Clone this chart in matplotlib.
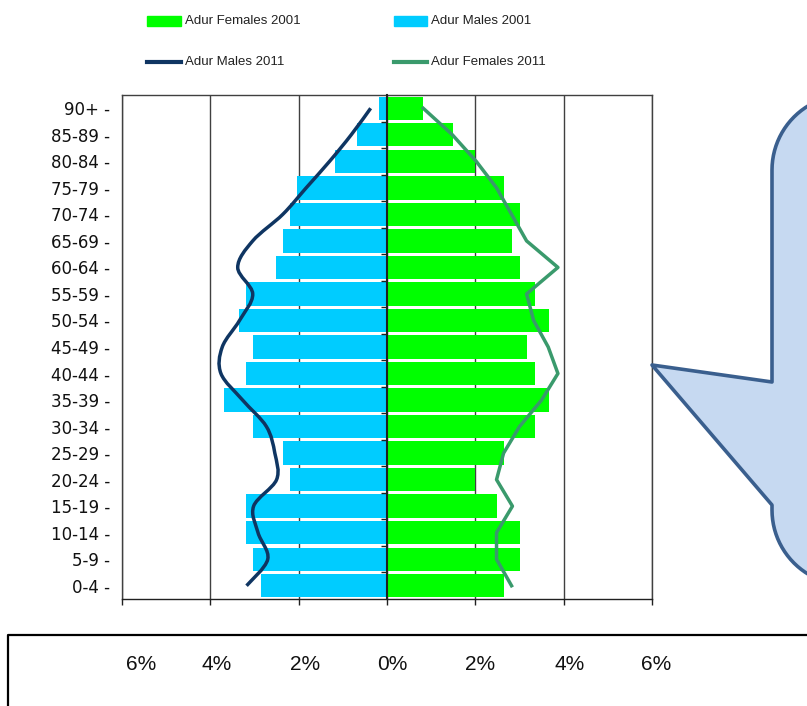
"""
Adur population pyramid, 2001 bars with 2011 lines.
"""

import numpy as np
import matplotlib
matplotlib.use("Agg")
import matplotlib.pyplot as plt
import matplotlib.transforms as mtransforms
from matplotlib.path import Path
from matplotlib.patches import PathPatch, Rectangle

# ─────────────────────────────────────────────
# DATA (% of total population, bottom -> top)
# ─────────────────────────────────────────────
AGE_GROUPS = ["0-4", "5-9", "10-14", "15-19", "20-24", "25-29", "30-34",
              "35-39", "40-44", "45-49", "50-54", "55-59", "60-64",
              "65-69", "70-74", "75-79", "80-84", "85-89", "90+"]

MALES_2001 = [2.86, 3.04, 3.20, 3.20, 2.20, 2.36, 3.04, 3.70, 3.20, 3.04,
              3.36, 3.20, 2.52, 2.36, 2.20, 2.03, 1.18, 0.69, 0.19]
FEMALES_2001 = [2.66, 3.00, 3.00, 2.50, 1.99, 2.66, 3.34, 3.66, 3.34, 3.16,
                3.66, 3.34, 3.00, 2.82, 3.00, 2.66, 1.99, 1.49, 0.82]
MALES_2011 = [3.18, 2.70, 2.92, 3.02, 2.50, 2.54, 2.73, 3.27, 3.76, 3.73,
              3.34, 3.04, 3.38, 3.04, 2.36, 1.83, 1.30, 0.81, 0.37]
FEMALES_2011 = [2.82, 2.48, 2.48, 2.84, 2.48, 2.64, 3.00, 3.50, 3.87, 3.65,
                3.32, 3.16, 3.87, 3.16, 2.82, 2.48, 2.02, 1.48, 0.82]

XTICKS = [-6, -4, -2, 0, 2, 4, 6]
XTICK_LABELS = ["6%", "4%", "2%", "0%", "2%", "4%", "6%"]

# ─────────────────────────────────────────────
# CORES
# ─────────────────────────────────────────────
C_MALE = "#00CCFF"
C_FEMALE = "#00FF00"
C_MALE11 = "#0F3562"
C_FEMALE11 = "#3A9A6C"
C_GRID = "#404040"
C_CALLOUT = "#C6D9F1"
C_CALLOUT_EDGE = "#3A5F8E"

W, H = 807, 706


def smooth_path(xs, ys):
    """Smooth (Excel-like) curve through the given points."""
    pts = np.column_stack([xs, ys]).astype(float)
    n = len(pts)
    verts = [pts[0]]
    codes = [Path.MOVETO]
    for i in range(n - 1):
        p0 = pts[max(i - 1, 0)]
        p1 = pts[i]
        p2 = pts[i + 1]
        p3 = pts[min(i + 2, n - 1)]
        verts += [p1 + (p2 - p0) / 6, p2 - (p3 - p1) / 6, p2]
        codes += [Path.CURVE4] * 3
    return Path(verts, codes)


fig = plt.figure(figsize=(W / 100, H / 100), dpi=100)
fig.patch.set_facecolor("white")

# main plot area (pixel box 122..652 x 95..599)
ax = fig.add_axes([122 / W, (H - 599) / H, 530 / W, 504 / H])
y = np.arange(len(AGE_GROUPS))

ax.barh(y, [-v for v in MALES_2001], height=0.88, color=C_MALE, zorder=2)
ax.barh(y, FEMALES_2001, height=0.88, color=C_FEMALE, zorder=2)
ax.add_patch(PathPatch(smooth_path([-v for v in MALES_2011], y), fill=False,
                       edgecolor=C_MALE11, lw=2.5, zorder=3))
ax.plot(FEMALES_2011, y, color=C_FEMALE11, lw=2.5, zorder=3)

ax.set_xlim(-6, 6)
ax.set_ylim(-0.5, len(AGE_GROUPS) - 0.5)
ax.set_axisbelow(True)
ax.grid(axis="x", color=C_GRID, lw=1)
ax.grid(axis="y", visible=False)
for s in ax.spines.values():
    s.set_color(C_GRID)
    s.set_linewidth(1)
ax.spines["bottom"].set_color("#202020")

ax.set_xticks(XTICKS)
ax.set_xticklabels(XTICK_LABELS, fontsize=15, family="Liberation Sans",
                   color="#111111")
ax.tick_params(axis="x", length=4, width=1, color="#202020", pad=36)
shifts = [19, 6, 6, 5, 5, 6, 4]
for lab, dx in zip(ax.get_xticklabels(), shifts):
    lab.set_transform(lab.get_transform() +
                      mtransforms.ScaledTranslation(dx / 100, 0,
                                                    fig.dpi_scale_trans))

ax.set_yticks(y)
ax.set_yticklabels([g + " -" for g in AGE_GROUPS], fontsize=12,
                   family="DejaVu Sans", color="#111111")
ax.tick_params(axis="y", length=0, pad=8.5)

# vertical axis at 0 with small tick marks between groups
tw = ax.twinx()
tw.set_ylim(ax.get_ylim())
for s in ["right", "top", "bottom"]:
    tw.spines[s].set_visible(False)
tw.spines["left"].set_position(("data", 0))
tw.spines["left"].set_color("#202020")
tw.spines["left"].set_linewidth(1.5)
tw.yaxis.set_ticks_position("left")
tw.set_yticks(np.arange(0.5, len(AGE_GROUPS) - 1, 1))
tw.set_yticklabels([])
tw.tick_params(axis="y", length=4, width=1, direction="out", color="#202020")

# ─────────────────────────────────────────────
# OVERLAY: legend, bottom box, callout
# ─────────────────────────────────────────────
ov = fig.add_axes([0, 0, 1, 1])
ov.set_xlim(0, W)
ov.set_ylim(H, 0)
ov.axis("off")

lkw = dict(va="center", ha="left", fontsize=9.5, family="Liberation Sans",
           color="#222222")
ov.add_patch(Rectangle((147, 16), 34, 10, color=C_FEMALE))
ov.text(185, 21, "Adur Females 2001", **lkw)
ov.add_patch(Rectangle((394, 16), 33, 10, color=C_MALE))
ov.text(431, 21, "Adur Males 2001", **lkw)
ov.plot([147, 181], [62, 62], color=C_MALE11, lw=3)
ov.text(185, 62, "Adur Males 2011", **lkw)
ov.plot([394, 427], [62, 62], color=C_FEMALE11, lw=3)
ov.text(431, 62, "Adur Females 2011", **lkw)

# box under the chart
ov.plot([8, 8, 830], [730, 635, 635], color="black", lw=1.6)

# callout shape on the right
r = 75
t = np.linspace(0, np.pi / 2, 25)
top_arc = np.column_stack([847 - r * np.cos(t), 170 - r * np.sin(t)])
bot_arc = np.column_stack([847 - r * np.cos(t), 510 + r * np.sin(t)])[::-1]
verts = np.vstack([[[652, 365], [772, 382], [772, 170]],
                   top_arc,
                   [[900, 95], [900, 585]],
                   bot_arc,
                   [[772, 505], [652, 365]]])
ov.add_patch(PathPatch(Path(verts, closed=True), facecolor=C_CALLOUT,
                       edgecolor=C_CALLOUT_EDGE, lw=2.6, joinstyle="round"))

fig.savefig("out.png", dpi=100, facecolor="white")
plt.close()
